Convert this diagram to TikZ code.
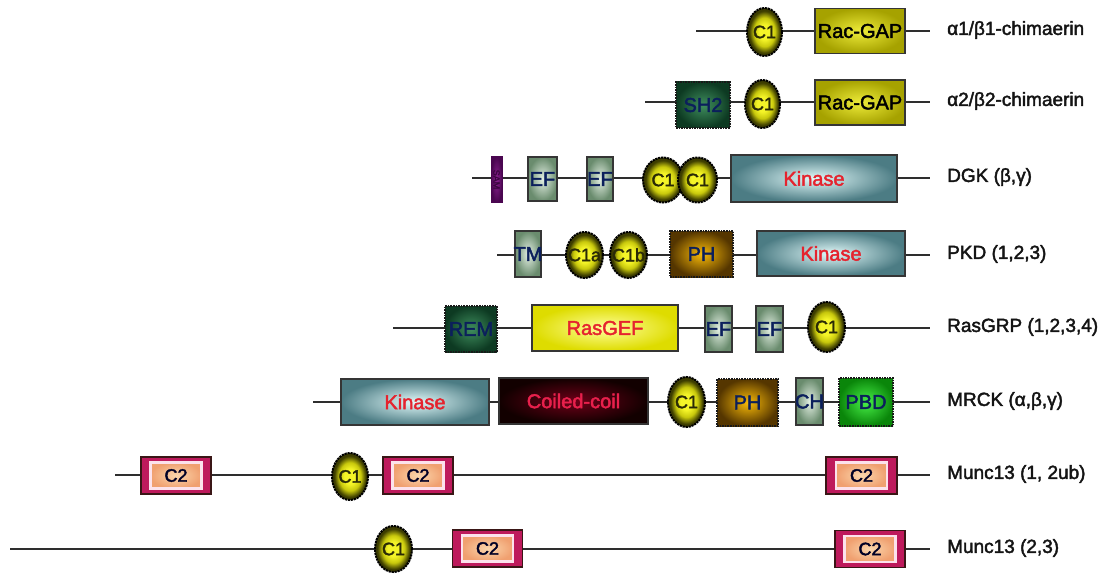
\documentclass[tikz,border=0pt]{standalone}
\usepackage{fontspec}
\setmainfont{Liberation Sans}
\newfontfamily\heavy[FakeBold=2.2]{Liberation Sans}
\usetikzlibrary{shapes.geometric}

\definecolor{linec}{HTML}{2E2E2E}
\definecolor{edgec}{HTML}{353535}
\definecolor{labc}{HTML}{141414}
\definecolor{navy}{HTML}{0B1F5C}
\definecolor{redt}{HTML}{E5232E}
\definecolor{c1in}{HTML}{F4F428}
\definecolor{c1mid}{HTML}{C8C80C}
\definecolor{c1out}{HTML}{3C3C00}
\definecolor{c1txt}{HTML}{2A2A06}
\definecolor{gapin}{HTML}{EEEC3A}
\definecolor{gapout}{HTML}{A6A200}
\definecolor{sh2in}{HTML}{3F8E5E}
\definecolor{sh2out}{HTML}{0D3A22}
\definecolor{efin}{HTML}{E4F0E4}
\definecolor{efout}{HTML}{6A8C6E}
\definecolor{kinin}{HTML}{E2FAFA}
\definecolor{kinout}{HTML}{4C7C84}
\definecolor{phin}{HTML}{F8BA08}
\definecolor{phout}{HTML}{553600}
\definecolor{gefin}{HTML}{FFFF9A}
\definecolor{gefout}{HTML}{DEDC00}
\definecolor{coilin}{HTML}{6E0018}
\definecolor{coilout}{HTML}{120000}
\definecolor{coilt}{HTML}{E8204C}
\definecolor{pbdin}{HTML}{48F048}
\definecolor{pbdout}{HTML}{0A860A}
\definecolor{samin}{HTML}{8A2090}
\definecolor{samout}{HTML}{4A0650}
\definecolor{ctwo}{HTML}{BE1A5C}
\definecolor{ctwoedge}{HTML}{3A1616}
\definecolor{ctworim}{HTML}{FCE2EC}
\definecolor{peachin}{HTML}{FBD6AC}
\definecolor{peachout}{HTML}{F0A070}

% bright yellow dome with a dark olive rim for the C1 domains
\pgfdeclareradialshading{cdome}{\pgfpoint{0bp}{0bp}}{%
  color(0bp)=(c1in); color(8bp)=(c1in); color(15bp)=(c1mid);
  color(22bp)=(c1out); color(50bp)=(c1out)}

% zero-width label so the box keeps its own size
\newcommand\zw[1]{\makebox[0pt]{#1}}

\begin{document}
\begin{tikzpicture}[x=1pt,y=-1pt,
  backbone/.style={draw=linec, line width=2pt},
  sz/.style n args={2}{minimum width=#1pt, minimum height=#2pt},
  dom/.style={rectangle, draw=edgec, line width=1.6pt, inner sep=0pt,
    font=\heavy\fontsize{20}{20}\selectfont},
  dotb/.style={draw=black!90, line width=1.8pt, dash pattern=on 1.6pt off 1pt},
  cone/.style={ellipse, inner sep=0pt, draw=black, line width=2pt,
    dash pattern=on 2.2pt off 0.8pt, shading=cdome,
    text=c1txt, font=\heavy\fontsize{18}{18}\selectfont},
  racgap/.style={dom, inner color=gapin, outer color=gapout, text=black},
  shtwo/.style={dom, dotb, inner color=sh2in, outer color=sh2out, text=navy},
  efbox/.style={dom, inner color=efin, outer color=efout, text=navy},
  kinase/.style={dom, inner color=kinin, outer color=kinout, text=redt},
  phbox/.style={dom, dotb, inner color=phin, outer color=phout, text=navy},
  rasgef/.style={dom, inner color=gefin, outer color=gefout, text=redt},
  coil/.style={dom, inner color=coilin, outer color=coilout, text=coilt},
  pbd/.style={dom, dotb, inner color=pbdin, outer color=pbdout, text=navy},
  sambox/.style={dom, line width=1pt, draw=samout, inner color=samin, outer color=samout},
  ctwoout/.style={dom, draw=ctwoedge, fill=ctwo, sz={70}{37}},
  ctwoin/.style={rectangle, inner sep=0pt, draw=ctworim, line width=2.4pt,
    inner color=peachin, outer color=peachout, text=black!85!blue,
    font=\heavy\fontsize{18}{18}\selectfont, sz={51}{26}},
  lab/.style={anchor=west, inner sep=0pt, text=labc, font=\heavy\fontsize{19}{19}\selectfont}]

\useasboundingbox (0,0) rectangle (1111,575);

% ---------- backbones ----------
\coordinate (a0) at (696,31);  \coordinate (a1) at (930,31);
\coordinate (b0) at (645,102); \coordinate (b1) at (930,102);
\coordinate (d0) at (472,178); \coordinate (d1) at (930,178);
\coordinate (p0) at (497,255); \coordinate (p1) at (930,255);
\coordinate (r0) at (393,328); \coordinate (r1) at (930,328);
\coordinate (m0) at (313,402); \coordinate (m1) at (930,402);
\coordinate (u0) at (115,475); \coordinate (u1) at (930,475);
\coordinate (v0) at (10,549);  \coordinate (v1) at (930,549);
\foreach \s in {a,b,d,p,r,m,u,v} \draw[backbone] (\s0) -- (\s1);

% ---------- alpha1/beta1-chimaerin ----------
\node[cone, sz={35}{48}] (a-c1) at (764.5,32) {\zw{C1}};
\node[racgap, sz={90}{45}] (a-gap) at (860,31) {\zw{Rac-GAP}};
\node[lab] (a-lab) at (947,30) {α1/β1-chimaerin};

% ---------- alpha2/beta2-chimaerin ----------
\node[shtwo, sz={54}{46}] (b-sh2) at (703,105) {\zw{SH2}};
\node[cone, sz={35}{48}] (b-c1) at (762.5,104) {\zw{C1}};
\node[racgap, sz={90}{45}] (b-gap) at (860,102.5) {\zw{Rac-GAP}};
\node[lab] (b-lab) at (947,101) {α2/β2-chimaerin};

% ---------- DGK ----------
\node[sambox, sz={11}{45}] (d-sam) at (496.5,179.5)
  {\rotatebox{-90}{\fontsize{9}{9}\selectfont\color{samout!80!black}SAM}};
\node[efbox, sz={29}{44}] (d-ef1) at (542.5,179) {\zw{EF}};
\node[efbox, sz={26}{44}] (d-ef2) at (600,179) {\zw{EF}};
\node[cone, sz={40}{45}] (d-c1a) at (663,180) {\zw{C1}};
\node[cone, sz={39}{45}] (d-c1b) at (697.5,180) {\zw{C1}};
\node[kinase, sz={166}{47}] (d-kin) at (814,178.5) {\zw{Kinase}};
\node[lab] (d-lab) at (947,177) {DGK (β,γ)};

% ---------- PKD ----------
\node[efbox, sz={26}{46}] (p-tm) at (528,254) {\zw{TM}};
\node[cone, sz={37}{46}] (p-c1a) at (584.5,255) {\zw{C1a}};
\node[cone, sz={37}{46}] (p-c1b) at (628.5,255) {\zw{C1b}};
\node[phbox, sz={63}{46}] (p-ph) at (701.5,254) {\zw{PH}};
\node[kinase, sz={148}{45}] (p-kin) at (831,253.5) {\zw{Kinase}};
\node[lab] (p-lab) at (947,254) {PKD (1,2,3)};

% ---------- RasGRP ----------
\node[shtwo, sz={52}{46}] (r-rem) at (471,329) {\zw{REM}};
\node[rasgef, sz={146}{46}] (r-gef) at (605,328) {\zw{RasGEF}};
\node[efbox, sz={27}{46}] (r-ef1) at (718.5,329) {\zw{EF}};
\node[efbox, sz={27}{46}] (r-ef2) at (769.5,329) {\zw{EF}};
\node[cone, sz={37}{50}] (r-c1) at (826.5,327) {\zw{C1}};
\node[lab] (r-lab) at (947,327) {RasGRP (1,2,3,4)};

% ---------- MRCK ----------
\node[kinase, sz={148}{46}] (m-kin) at (415,402) {\zw{Kinase}};
\node[coil, sz={149}{46}] (m-coil) at (573.5,401) {\zw{Coiled-coil}};
\node[cone, sz={37}{50}] (m-c1) at (686.5,402) {\zw{C1}};
\node[phbox, sz={61}{47}] (m-ph) at (747.5,402.5) {\zw{PH}};
\node[efbox, sz={27}{47}] (m-ch) at (809.5,401.5) {\zw{CH}};
\node[pbd, sz={54}{48}] (m-pbd) at (866,402) {\zw{PBD}};
\node[lab] (m-lab) at (947,401) {MRCK (α,β,γ)};

% ---------- Munc13 (1, 2ub) ----------
\node[ctwoout] (u-c2a) at (176,475.5) {};
\node[ctwoin] (u-c2ai) at (u-c2a.center) {\zw{C2}};
\node[cone, sz={36}{47}] (u-c1) at (350,476.5) {\zw{C1}};
\node[ctwoout] (u-c2b) at (418,475.5) {};
\node[ctwoin] (u-c2bi) at (u-c2b.center) {\zw{C2}};
\node[ctwoout, sz={71}{37}] (u-c2c) at (861.5,475.5) {};
\node[ctwoin] (u-c2ci) at (u-c2c.center) {\zw{C2}};
\node[lab] (u-lab) at (947,474) {Munc13 (1, 2ub)};

% ---------- Munc13 (2,3) ----------
\node[cone, sz={37}{46}] (v-c1) at (393.5,549) {\zw{C1}};
\node[ctwoout] (v-c2a) at (487.5,548.5) {};
\node[ctwoin] (v-c2ai) at (v-c2a.center) {\zw{C2}};
\node[ctwoout] (v-c2b) at (870,549) {};
\node[ctwoin] (v-c2bi) at (v-c2b.center) {\zw{C2}};
\node[lab] (v-lab) at (947,548) {Munc13 (2,3)};

\end{tikzpicture}
\end{document}
